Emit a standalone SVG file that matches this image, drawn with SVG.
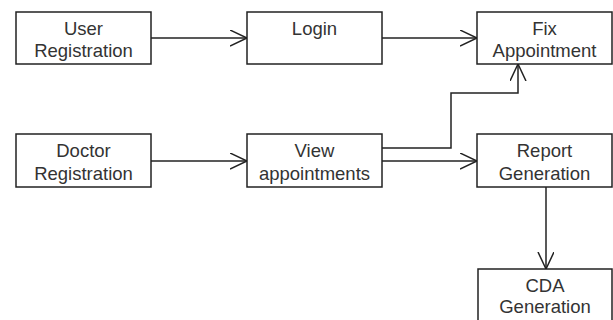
<svg xmlns="http://www.w3.org/2000/svg" width="613" height="320" viewBox="0 0 613 320">
<defs>
<marker id="open" markerWidth="20" markerHeight="20" refX="17" refY="8" orient="auto" markerUnits="userSpaceOnUse">
<path d="M0,0 L17,8 L0,16" fill="none" stroke="#222" stroke-width="1.5"/>
</marker>
<style>
.box{fill:#fff;stroke:#222;stroke-width:1.5}
.t{font-family:"Liberation Sans",Arial,sans-serif;font-size:18.5px;fill:#333;text-anchor:middle}
.c{fill:none;stroke:#222;stroke-width:1.5}
</style>
</defs>
<rect width="613" height="320" fill="#fff"/>
<g id="connectors">
<path class="c" d="M151,38 H247" marker-end="url(#open)"/>
<path class="c" d="M382,38 H477" marker-end="url(#open)"/>
<path class="c" d="M151,161 H247" marker-end="url(#open)"/>
<path class="c" d="M382,161 H477" marker-end="url(#open)"/>
<path class="c" d="M382,148 H451 V93 H518 V64" marker-end="url(#open)"/>
<path class="c" d="M546,187 V269" marker-end="url(#open)"/>
</g>
<g id="user-registration">
<rect class="box" x="16" y="12" width="135" height="52"/>
<text class="t" x="83.5" y="35">User</text>
<text class="t" x="83.5" y="57">Registration</text>
</g>
<g id="login">
<rect class="box" x="247" y="12" width="135" height="52"/>
<text class="t" x="314.5" y="35">Login</text>
</g>
<g id="fix-appointment">
<rect class="box" x="477" y="12" width="135" height="52"/>
<text class="t" x="544.5" y="35">Fix</text>
<text class="t" x="544.5" y="57">Appointment</text>
</g>
<g id="doctor-registration">
<rect class="box" x="16" y="134" width="135" height="53"/>
<text class="t" x="83.5" y="157">Doctor</text>
<text class="t" x="83.5" y="180">Registration</text>
</g>
<g id="view-appointments">
<rect class="box" x="247" y="134" width="135" height="53"/>
<text class="t" x="314.5" y="157">View</text>
<text class="t" x="314.5" y="180">appointments</text>
</g>
<g id="report-generation">
<rect class="box" x="477" y="134" width="135" height="53"/>
<text class="t" x="544.5" y="157">Report</text>
<text class="t" x="544.5" y="180">Generation</text>
</g>
<g id="cda-generation">
<rect class="box" x="478" y="269" width="134" height="60"/>
<text class="t" x="545" y="292">CDA</text>
<text class="t" x="545" y="313">Generation</text>
</g>
</svg>
